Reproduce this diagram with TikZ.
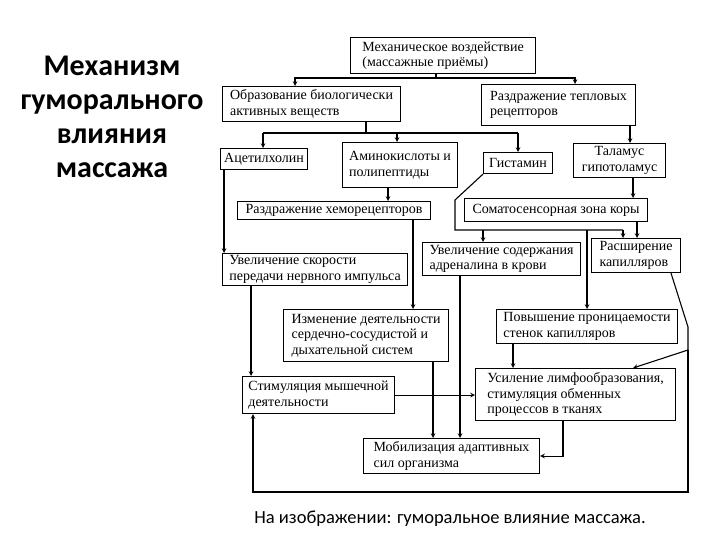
\documentclass[tikz,border=0pt]{standalone}
\usepackage{fontspec}
\setmainfont{Liberation Serif}
\newfontfamily\slidefont{Carlito}

\begin{document}
\begin{tikzpicture}[x=1pt,y=-1pt,
	blk/.style={draw,line width=1.1pt,anchor=north west,align=left,inner sep=2pt,font=\fontsize{14}{15.5}\selectfont},
	link/.style={line width=1.1pt},
	hd/.style={font=\slidefont\bfseries\fontsize{30}{34}\selectfont,align=center}]
	
	\fill[white] (0,0) rectangle (720,540);
	\useasboundingbox (0,0) rectangle (720,540);
	
	\node[hd] (title) at (112,117) {Механизм\\гуморального\\влияния\\массажа};
	\node[font=\slidefont\fontsize{18.5}{22}\selectfont] (cap) at (450,519) {На изображении: гуморальное влияние массажа.};
	
	\node[blk,minimum width=185pt,minimum height=36pt] (mech) at (350,37) {Механическое воздействие\\(массажные приёмы)};
	\node[blk,minimum width=178pt,minimum height=35pt] (bio) at (222,86) {Образование биологически\\активных веществ};
	\node[blk,minimum width=154pt,minimum height=41pt] (heat) at (481,84) {Раздражение тепловых\\рецепторов};
	\node[blk,minimum width=87pt,minimum height=21pt] (ach) at (220,148) {Ацетилхолин};
	\node[blk,minimum width=115pt,minimum height=45pt] (amino) at (342,142) {Аминокислоты и\\полипептиды};
	\node[blk,minimum width=69pt,minimum height=21pt] (hist) at (483,152) {Гистамин};
	\node[blk,align=center,minimum width=92pt,minimum height=34pt] (thal) at (573,143) {Таламус\\гипотоламус};
	\node[blk,minimum width=193pt,minimum height=18pt] (chemo) at (237,201) {Раздражение хеморецепторов};
	\node[blk,minimum width=183pt,minimum height=23pt] (soma) at (464,198) {Соматосенсорная зона коры};
	\node[blk,minimum width=185pt,minimum height=32pt] (speed) at (222,253) {Увеличение скорости\\передачи нервного импульса};
	\node[blk,minimum width=158pt,minimum height=33pt] (adren) at (422,242) {Увеличение содержания\\адреналина в крови};
	\node[blk,minimum width=89pt,minimum height=34pt] (dil) at (591,238) {Расширение\\капилляров};
	\node[blk,minimum width=165pt,minimum height=52pt] (card) at (283,309) {Изменение деятельности\\сердечно-сосудистой и\\дыхательной систем};
	\node[blk,minimum width=181pt,minimum height=34pt] (perm) at (496,309) {Повышение проницаемости\\стенок капилляров};
	\node[blk,minimum width=152pt,minimum height=37pt] (stim) at (242,376) {Стимуляция мышечной\\деятельности};
	\node[blk,minimum width=200pt,minimum height=52pt] (lymph) at (475,368) {Усиление лимфообразования,\\стимуляция обменных\\процессов в тканях};
	\node[blk,minimum width=176pt,minimum height=35pt] (mob) at (363,438) {Мобилизация адаптивных\\сил организма};
	
	% branch points
	\coordinate (mb) at (436,78);
	\coordinate (mbL) at (295,78);
	\coordinate (mbR) at (575,78);
	\coordinate (bb) at (366,133);
	\coordinate (bbA) at (263,133);
	\coordinate (bbB) at (397,133);
	\coordinate (bbC) at (518,133);
	\coordinate (hk) at (455,200);
	\coordinate (hb) at (455,230);
	\coordinate (hbA) at (483,230);
	\coordinate (hbB) at (587,230);
	\coordinate (hbC) at (623,230);
	\coordinate (rk) at (688,327);
	\coordinate (rj) at (688,350);
	\coordinate (rb) at (688,492);
	\coordinate (lb) at (253,492);
	
	\draw[link] (mb |- mech.south) -- (mb);
	\draw[link,-stealth] (mb) -| (mbL |- bio.north);
	\draw[link,-stealth] (mb) -| (mbR |- heat.north);
	
	\draw[link] (bb |- bio.south) -- (bb);
	\draw[link] (bbA) -- (bbC);
	\draw[link,-stealth] (bbA) -- (bbA |- ach.north);
	\draw[link,-stealth] (bbB) -- (bbB |- amino.north);
	\draw[link,-stealth] (bbC) -- (bbC |- hist.north);
	
	\draw[link,-stealth] (heat.south -| 630,0) -- (thal.north -| 630,0);
	\draw[link,-stealth] (amino.south -| 388,0) -- (chemo.north -| 388,0);
	\draw[link,-stealth] (thal.south -| 633,0) -- (soma.north -| 633,0);
	\draw[link,-stealth] (ach.south -| 224,0) -- (speed.north -| 224,0);
	\draw[link,-stealth] (chemo.south -| 413,0) -- (card.north -| 413,0);
	
	\draw[link] (hist.south west) -- (hk) -- (hb) -- (hbC);
	\draw[link,-stealth] (hbA) -- (hbA |- adren.north);
	\draw[link,-stealth] (hbB) -- (hbB |- perm.north);
	\draw[link,-stealth] (hbC) -- (hbC |- dil.north);
	\draw[link,-stealth] (soma.south -| 637,0) -- (dil.north -| 637,0);
	
	\draw[link,-stealth] (speed.south -| 251,0) -- (stim.north -| 251,0);
	\draw[link,-stealth] (adren.south -| 460,0) -- (mob.north -| 460,0);
	\draw[link,-stealth] (card.south -| 433,0) -- (mob.north -| 433,0);
	\draw[link,-stealth] (perm.south -| 513,0) -- (lymph.north -| 513,0);
	\draw[link,-stealth] (stim.east) -- (lymph.west |- stim.east);
	\draw[link,-stealth] (lymph.south -| 563,0) |- (mob.east);
	
	\draw[link] (dil.south -| 671,0) -- (rk) -- (rj);
	\draw[link,-stealth] (rj) -- (lymph.north -| 633,0);
	\draw[link,-stealth] (rj) -- (rb) -- (lb) -- (lb |- stim.south);
	
\end{tikzpicture}
\end{document}
